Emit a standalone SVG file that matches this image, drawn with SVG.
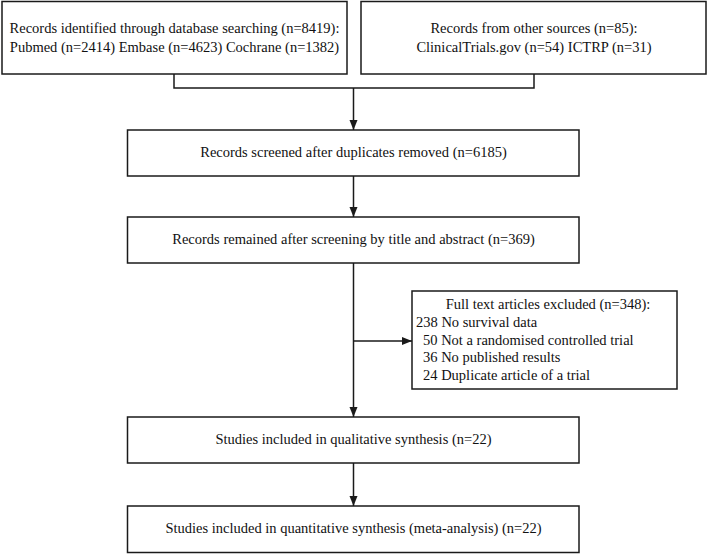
<svg xmlns="http://www.w3.org/2000/svg" width="708" height="554" viewBox="0 0 708 554">
<style>
.box{fill:#fff;stroke:#1a1a1a;stroke-width:1.5}
text{font-family:'Liberation Serif','Times New Roman',Times,serif;font-size:14.5px;fill:#111}
.c{text-anchor:middle}
.ln{fill:none;stroke:#1a1a1a;stroke-width:1.5}
</style>
<defs>
<marker id="ah" viewBox="0 0 10 10" refX="10" refY="5" markerWidth="10" markerHeight="10" markerUnits="userSpaceOnUse" orient="auto">
<path d="M0,1 L10,5 L0,9 Z" fill="#1a1a1a"/>
</marker>
</defs>
<rect width="708" height="554" fill="#fff"/>
<g id="connectors">
<path class="ln" d="M174,74 V88 H534 V74"/>
<path class="ln" d="M353.5,88 V130" marker-end="url(#ah)"/>
<path class="ln" d="M353.5,176 V217" marker-end="url(#ah)"/>
<path class="ln" d="M353.5,263 V417" marker-end="url(#ah)"/>
<path class="ln" d="M353.5,341 H412" marker-end="url(#ah)"/>
<path class="ln" d="M353.5,463 V506" marker-end="url(#ah)"/>
</g>
<g id="db" font-family="Liberation Serif, serif">
<rect class="box" x="2" y="1.5" width="345" height="72.5"/>
<text class="c" x="174.5" y="33">Records identified through database searching (n=8419):</text>
<text class="c" x="174.5" y="52">Pubmed (n=2414) Embase (n=4623) Cochrane (n=1382)</text>
</g>
<g id="other">
<rect class="box" x="361" y="1.5" width="345" height="72.5"/>
<text class="c" x="534" y="33">Records from other sources (n=85):</text>
<text class="c" x="534" y="52">ClinicalTrials.gov (n=54) ICTRP (n=31)</text>
</g>
<g id="screened">
<rect class="box" x="127.5" y="130" width="451.5" height="46"/>
<text class="c" x="353.5" y="157">Records screened after duplicates removed (n=6185)</text>
</g>
<g id="remained">
<rect class="box" x="127.5" y="217" width="451.5" height="46"/>
<text class="c" x="353.5" y="244">Records remained after screening by title and abstract (n=369)</text>
</g>
<g id="excluded">
<rect class="box" x="412" y="291" width="265" height="98"/>
<text class="c" x="548" y="309">Full text articles excluded (n=348):</text>
<text x="416" y="327">238 No survival data</text>
<text x="423" y="344.5">50 Not a randomised controlled trial</text>
<text x="423" y="362">36 No published results</text>
<text x="423" y="379.5">24 Duplicate article of a trial</text>
</g>
<g id="qual">
<rect class="box" x="127.5" y="417" width="451.5" height="46"/>
<text class="c" x="353.5" y="444">Studies included in qualitative synthesis (n=22)</text>
</g>
<g id="quant">
<rect class="box" x="127.5" y="506" width="451.5" height="46.5"/>
<text class="c" x="353.5" y="533">Studies included in quantitative synthesis (meta-analysis) (n=22)</text>
</g>
</svg>
